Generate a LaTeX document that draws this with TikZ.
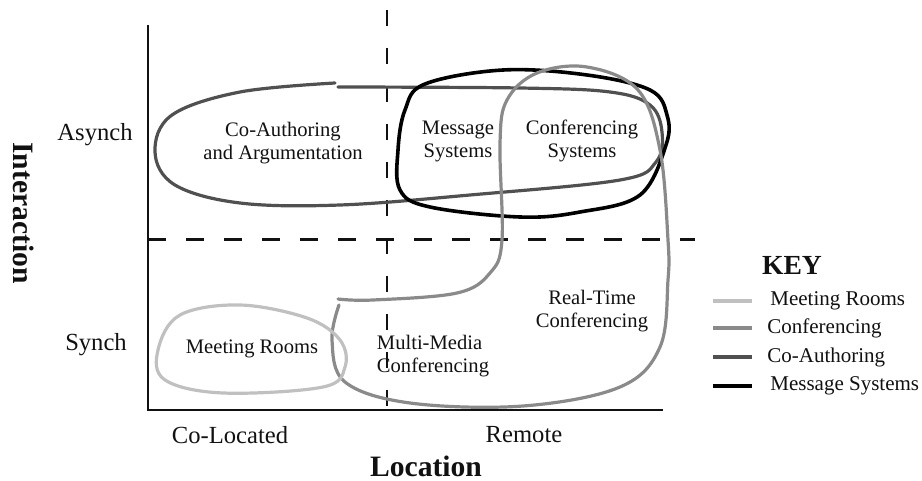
\documentclass[tikz,border=0pt]{standalone}
\usepackage{fontspec}
\setmainfont{Liberation Serif}
\usetikzlibrary{calc}
\definecolor{cwMeeting}{HTML}{C0C0C0}
\definecolor{cwConf}{HTML}{8A8A8A}
\definecolor{cwCoAuth}{HTML}{505050}
\definecolor{cwMsg}{HTML}{000000}
\definecolor{cwInk}{HTML}{111111}

\begin{document}
\begin{tikzpicture}[x=0.5pt, y=-0.5pt,
    region/.style={line width=1.6pt, line join=round, line cap=round},
    lbl/.style={font=\fontsize{10.3}{11.5}\selectfont, align=center, inner sep=0pt, text=cwInk},
    axislbl/.style={font=\fontsize{12.3}{14}\selectfont, inner sep=0pt, text=cwInk},
    title/.style={font=\fontsize{14.8}{17}\selectfont\bfseries, inner sep=0pt, text=cwInk},
    keylbl/.style={font=\fontsize{10.5}{12}\selectfont, anchor=west, inner sep=0pt, text=cwInk}]
    \useasboundingbox (0,0) rectangle (922,481);
    \coordinate (O) at (148,410);
    \coordinate (Ytop) at (148,25);
    \coordinate (Xend) at (663,410);
    \coordinate (Vtop) at (387,10);
    \coordinate (Vbot) at (387,420);
    \coordinate (Hl) at (148,240);
    \coordinate (Hr) at (695,240);
    \draw[cwInk, line width=1pt] (Ytop)--(O)--(Xend);
    \draw[cwInk, line width=1pt, dash pattern=on 8pt off 11pt] (Vtop)--(Vbot);
    \draw[cwInk, line width=1.5pt, dash pattern=on 9pt off 10pt] (Hl)--(Hr);
    \draw[region, cwCoAuth] plot[smooth, tension=0.6] coordinates {(338,87) (520,88) (610,92) (650,105) (662,132) (656,162) (620,180) (470,195) (340,205) (240,203) (175,185) (155,152) (172,115) (240,92) (335,83)};
    \draw[region, cwMsg, line width=1.8pt] plot[smooth cycle, tension=0.6] coordinates {(503,70) (587,75) (650,90) (667,115) (666,145) (640,195) (580,212) (520,217) (430,207) (400,190) (398,150) (405,110) (425,84)};
    \draw[region, cwConf] plot[smooth, tension=0.6] coordinates {(338,299) (373,300) (457,293) (490,273) (502,240) (500,143) (507,100) (537,73) (587,67) (638,90) (660,150) (668,240) (668,280) (660,347) (620,387) (523,406) (410,403) (345,382) (332,340) (339,305)};
    \draw[region, cwMeeting] plot[smooth cycle, tension=0.6] coordinates {(240,305) (307,318) (340,340) (345,367) (323,387) (223,393) (165,380) (158,350) (180,315)};
    \node[lbl] (coauth) at (283,143) {Co-Authoring\\and Argumentation};
    \node[lbl] (msgsys) at (458,141) {Message\\Systems};
    \node[lbl] (confsys) at (582,141) {Conferencing\\Systems};
    \node[lbl] (meet) at (252,349) {Meeting Rooms};
    \node[lbl, align=left] (mmconf) at (433,356) {Multi-Media\\Conferencing};
    \node[lbl] (rtconf) at (592,311) {Real-Time\\Conferencing};
    \node[axislbl] (asynch) at (95,135) {Asynch};
    \node[axislbl] (synch) at (96,345) {Synch};
    \node[axislbl] (colocated) at (230,435) {Co-Located};
    \node[axislbl] (remote) at (524,435) {Remote};
    \node[title] (location) at (426,466) {Location};
    \node[title, rotate=-90] (interaction) at (24,213) {Interaction};
    \node[title, font=\fontsize{13.8}{16}\selectfont\bfseries] (key) at (792,265) {KEY};
    \foreach \name/\col/\yy/\tx/\txt in {kMeet/cwMeeting/301/770/Meeting Rooms, kConf/cwConf/328/767/Conferencing, kCoAuth/cwCoAuth/357/767/Co-Authoring, kMsg/cwMsg/386/770/Message Systems} {
      \coordinate (\name a) at (713,\yy);
      \coordinate (\name b) at (752,\yy);
      \draw[\col, line width=1.8pt] (\name a)--(\name b);
      \node[keylbl] (\name t) at (\tx,\yy) {\txt};
    }
  \end{tikzpicture}
\end{document}
